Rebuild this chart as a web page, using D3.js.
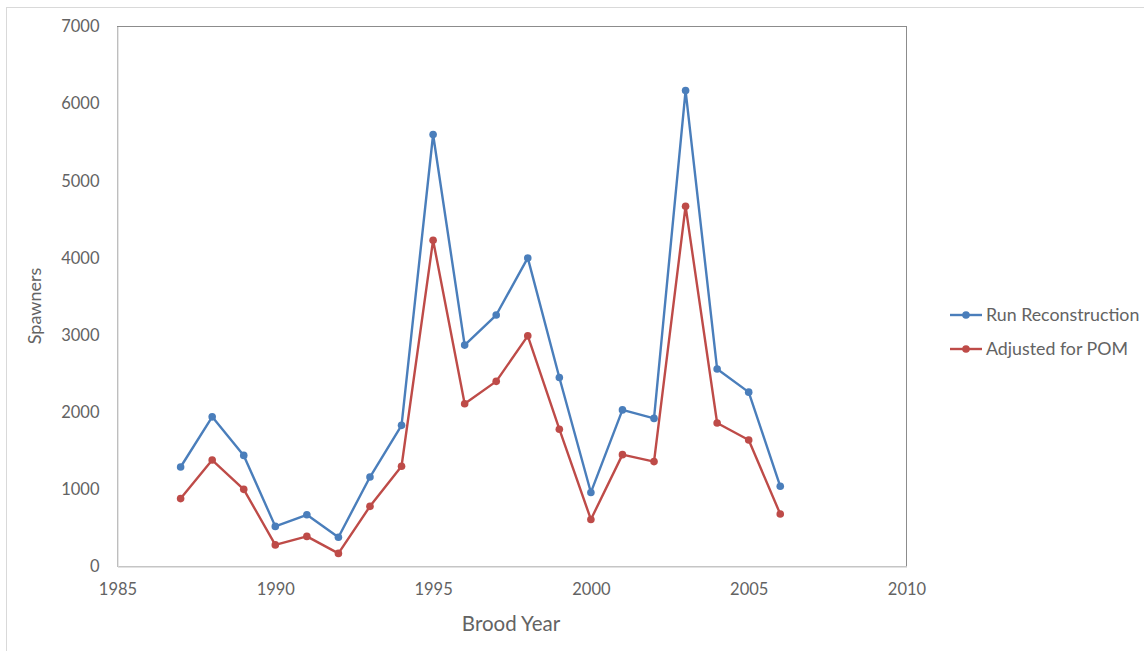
<!DOCTYPE html>
<html><head><meta charset="utf-8">
<script src="https://cdn.jsdelivr.net/npm/d3@7"></script>
<style>
html,body{margin:0;padding:0;background:#fff;}
svg{display:block;font-family:Lato,"Open Sans",sans-serif;}
</style></head>
<body>
<svg id="chart" width="1144" height="651"></svg>
<script>
const years = [1987,1988,1989,1990,1991,1992,1993,1994,1995,1996,1997,1998,1999,2000,2001,2002,2003,2004,2005,2006];
const runReconstruction = [1290,1940,1440,520,670,380,1160,1830,5600,2870,3260,4000,2450,960,2030,1920,6170,2560,2260,1040];
const adjustedForPOM = [880,1380,1000,280,390,170,780,1300,4230,2110,2400,2990,1780,610,1450,1360,4670,1860,1640,680];
const xTicks = [1985,1990,1995,2000,2005,2010];
const yTicks = [0,1000,2000,3000,4000,5000,6000,7000];
const seriesNames = ["Run Reconstruction","Adjusted for POM"];
const seriesColors = ["#4a7ebb","#be4b48"];

const svg = d3.select("#chart");
const pL = 117.5, pR = 906.5, pT = 26.5, pB = 566.5;
const x = d3.scaleLinear().domain([1985,2010]).range([pL,pR]);
const y = d3.scaleLinear().domain([0,7000]).range([pB,pT]);
const FONT = 'Lato,"Open Sans",sans-serif';
const TXT = "#636363";

// outer chart border
svg.append("rect").attr("x",6.5).attr("y",7.5).attr("width",1150).attr("height",660)
  .attr("fill","none").attr("stroke","#d9d9d9");

// plot area border
svg.append("rect").attr("x",pL).attr("y",pT).attr("width",pR-pL).attr("height",pB-pT)
  .attr("fill","none").attr("stroke","#8c8c8c").attr("stroke-width",1);

// axes
const xAxis = svg.append("g").attr("transform",`translate(0,${pB})`)
  .call(d3.axisBottom(x).tickValues(xTicks).tickFormat(d3.format("d")).tickSize(0).tickPadding(17));
const yAxis = svg.append("g").attr("transform",`translate(${pL},0)`)
  .call(d3.axisLeft(y).tickValues(yTicks).tickFormat(d3.format("d")).tickSize(0).tickPadding(18));
[xAxis,yAxis].forEach(g=>{
  g.select(".domain").attr("stroke","#d9d9d9").attr("stroke-width",1.3);
  g.selectAll("text").attr("fill",TXT).style("font-size","16.5px").style("font-family",FONT);
});

// axis titles
svg.append("text").attr("x",511).attr("y",631).attr("text-anchor","middle")
  .attr("fill",TXT).style("font-size","20.5px").text("Brood Year");
svg.append("text").attr("transform","translate(41,306) rotate(-90)").attr("text-anchor","middle")
  .attr("fill",TXT).style("font-size","18px").text("Spawners");

// series
const allSeries = [runReconstruction, adjustedForPOM];
const line = d3.line().x((d,i)=>x(years[i])).y(d=>y(d));
allSeries.forEach((vals,k)=>{
  svg.append("path").datum(vals).attr("d",line).attr("fill","none")
    .attr("stroke",seriesColors[k]).attr("stroke-width",2.4).attr("stroke-linejoin","round");
  svg.append("g").selectAll("circle").data(vals).join("circle")
    .attr("cx",(d,i)=>x(years[i])).attr("cy",d=>y(d)).attr("r",3.8)
    .attr("fill",seriesColors[k]);
});

// legend
const lg = svg.append("g");
seriesNames.forEach((name,k)=>{
  const ly = 315 + k*34;
  lg.append("line").attr("x1",950).attr("x2",982).attr("y1",ly).attr("y2",ly)
    .attr("stroke",seriesColors[k]).attr("stroke-width",2.4);
  lg.append("circle").attr("cx",966).attr("cy",ly).attr("r",3.8).attr("fill",seriesColors[k]);
  lg.append("text").attr("x",986).attr("y",ly+6).attr("fill",TXT)
    .style("font-size","17.8px").text(name);
});
</script>
</body></html>
